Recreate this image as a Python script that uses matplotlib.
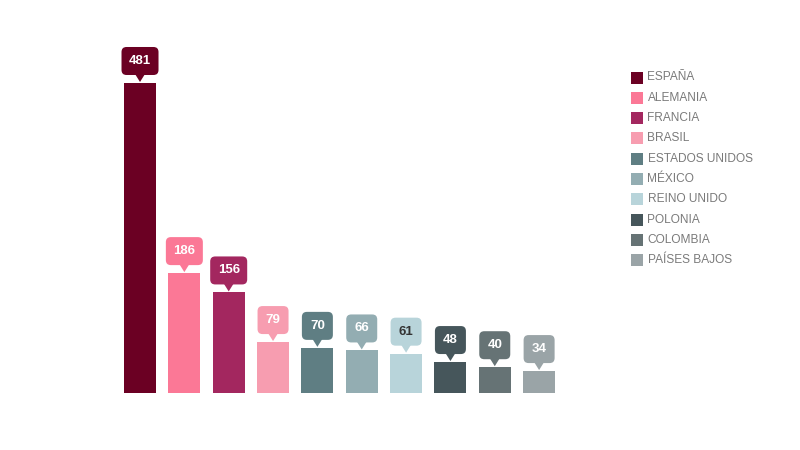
import matplotlib
matplotlib.use("Agg")
import matplotlib.pyplot as plt
from matplotlib.patches import FancyBboxPatch, Polygon, Rectangle
from matplotlib.transforms import Affine2D

plt.rcParams['font.family'] = ['Liberation Sans', 'DejaVu Sans']

countries = ["ESPAÑA", "ALEMANIA", "FRANCIA", "BRASIL", "ESTADOS UNIDOS",
             "MÉXICO", "REINO UNIDO", "POLONIA", "COLOMBIA", "PAÍSES BAJOS"]
values = [481, 186, 156, 79, 70, 66, 61, 48, 40, 34]
colors = ["#6b0023", "#fb7896", "#a3275f", "#f79db0", "#5f7e83",
          "#93adb2", "#b8d4da", "#46565b", "#667375", "#9aa4a7"]
label_colors = ["white"] * 6 + ["#333333"] + ["white"] * 3

fig = plt.figure(figsize=(8, 4.5), dpi=100)
ax = fig.add_axes([0.1473, 0.1267, 0.5543, 0.7844])
xs = list(range(len(values)))
ax.bar(xs, values, width=0.72, color=colors)
ax.set_xlim(-0.5, len(values) - 0.5)
ax.set_ylim(0, 547.7)
ax.axis("off")

# callout labels
for x, v, c, lc in zip(xs, values, colors, label_colors):
    px, py = ax.transData.transform((x, v))
    txt = str(v)
    w = 37 if len(txt) >= 3 else 31
    h = 28
    gap = 8
    tr = Affine2D().translate(px, py)
    box = FancyBboxPatch((-w / 2 + 5, gap + 5), w - 10, h - 10,
                         boxstyle="round,pad=5", fc=c, ec="none",
                         transform=tr, figure=fig)
    tri = Polygon([(-5, gap + 1), (5, gap + 1), (0, 1)], closed=True,
                  fc=c, ec="none", transform=tr, figure=fig)
    fig.patches.extend([box, tri])
    fig.text(px / 800, (py + gap + h / 2) / 450, txt, ha="center", va="center",
             fontsize=9.5, fontweight="bold", color=lc)

# legend
y0 = 77.5
step = 20.3
for i, (name, c) in enumerate(zip(countries, colors)):
    yc = 450 - (y0 + i * step)
    fig.patches.append(Rectangle((631 / 800, (yc - 6) / 450), 12 / 800, 12 / 450,
                                 transform=fig.transFigure, fc=c, ec="none"))
    fig.text(647.5 / 800, yc / 450, name, ha="left", va="center",
             fontsize=8.6, color="#7a7a7a")

fig.savefig("out.png", dpi=100)
